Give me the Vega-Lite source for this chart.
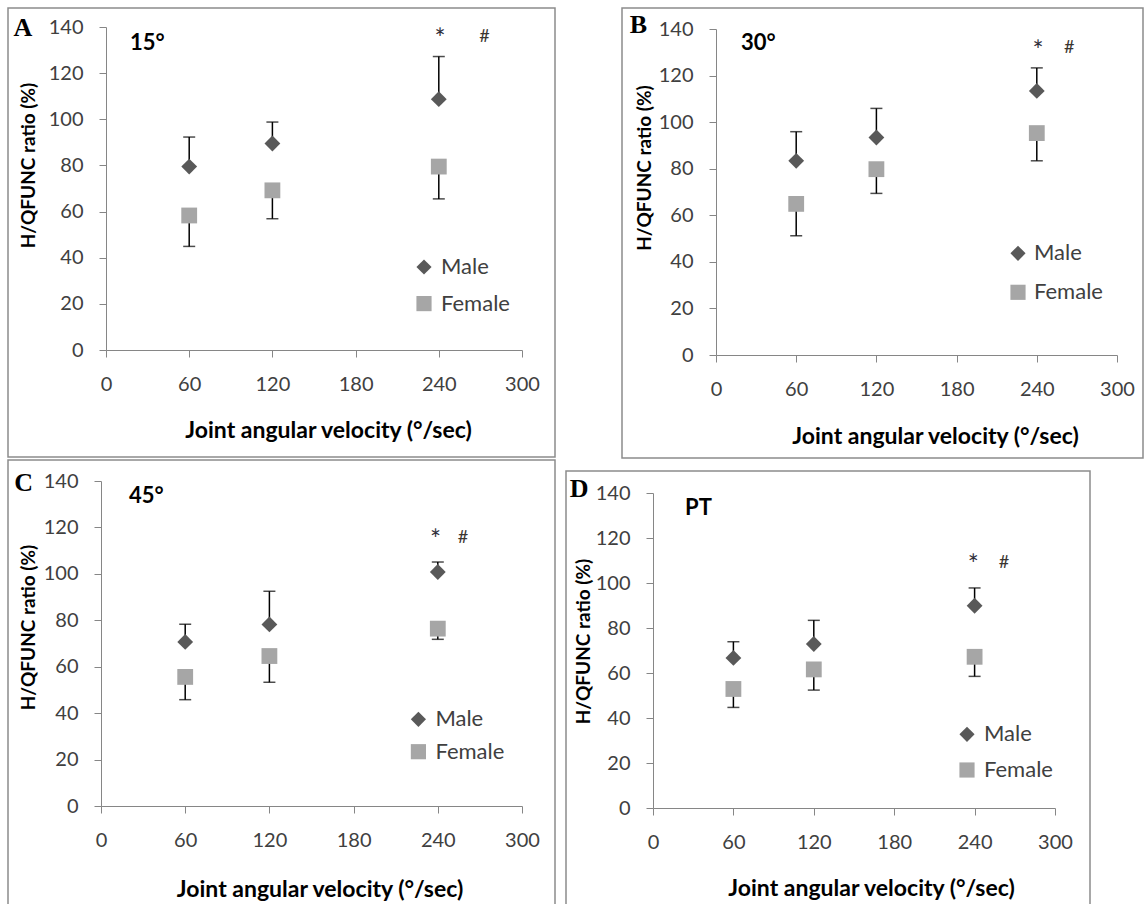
{
  "$schema": "https://vega.github.io/schema/vega-lite/v6.json",
  "background": "white",
  "padding": {"left": 7, "top": 7, "right": 0, "bottom": 0},
  "config": {
    "font": "Lato",
    "view": {"stroke": "#8c8c8c", "strokeWidth": 1.5},
    "axis": {"grid": false, "domainColor": "#868686", "tickColor": "#868686", "tickSize": 7, "labelColor": "#404040", "labelFont": "Lato", "labelFontSize": 20, "labelFlush": false, "labelOverlap": false, "titleFont": "Lato", "titleFontWeight": "bold", "titleColor": "#000000", "titleBaseline": "middle", "titleAlign": "center"},
    "axisX": {"labelPadding": 17},
    "axisY": {"labelPadding": 16},
    "legend": {"labelFont": "Lato", "labelFontSize": 22, "labelColor": "#404040", "symbolSize": 230, "symbolStrokeWidth": 0}
  },
  "datasets": {
    "pts": [
      {"panel": "A", "velocity": 60, "sex": "Male", "ratio": 79.5, "bar": 92.3},
      {"panel": "A", "velocity": 120, "sex": "Male", "ratio": 89.5, "bar": 98.8},
      {"panel": "A", "velocity": 240, "sex": "Male", "ratio": 108.7, "bar": 127.2},
      {"panel": "A", "velocity": 60, "sex": "Female", "ratio": 58.3, "bar": 44.9},
      {"panel": "A", "velocity": 120, "sex": "Female", "ratio": 69.2, "bar": 56.9},
      {"panel": "A", "velocity": 240, "sex": "Female", "ratio": 79.5, "bar": 65.5},
      {"panel": "B", "velocity": 60, "sex": "Male", "ratio": 83.4, "bar": 95.9},
      {"panel": "B", "velocity": 120, "sex": "Male", "ratio": 93.4, "bar": 105.9},
      {"panel": "B", "velocity": 240, "sex": "Male", "ratio": 113.4, "bar": 123.3},
      {"panel": "B", "velocity": 60, "sex": "Female", "ratio": 64.9, "bar": 51.2},
      {"panel": "B", "velocity": 120, "sex": "Female", "ratio": 79.8, "bar": 69.4},
      {"panel": "B", "velocity": 240, "sex": "Female", "ratio": 95.3, "bar": 83.4},
      {"panel": "C", "velocity": 60, "sex": "Male", "ratio": 70.7, "bar": 78.3},
      {"panel": "C", "velocity": 120, "sex": "Male", "ratio": 78.2, "bar": 92.5},
      {"panel": "C", "velocity": 240, "sex": "Male", "ratio": 100.8, "bar": 105.1},
      {"panel": "C", "velocity": 60, "sex": "Female", "ratio": 55.6, "bar": 45.8},
      {"panel": "C", "velocity": 120, "sex": "Female", "ratio": 64.6, "bar": 53.3},
      {"panel": "C", "velocity": 240, "sex": "Female", "ratio": 76.4, "bar": 71.8},
      {"panel": "D", "velocity": 60, "sex": "Male", "ratio": 66.7, "bar": 73.9},
      {"panel": "D", "velocity": 120, "sex": "Male", "ratio": 72.9, "bar": 83.4},
      {"panel": "D", "velocity": 240, "sex": "Male", "ratio": 89.9, "bar": 97.8},
      {"panel": "D", "velocity": 60, "sex": "Female", "ratio": 52.9, "bar": 44.7},
      {"panel": "D", "velocity": 120, "sex": "Female", "ratio": 61.6, "bar": 52.4},
      {"panel": "D", "velocity": 240, "sex": "Female", "ratio": 67.2, "bar": 58.5}
    ]
  },
  "spacing": 0,
  "resolve": {"scale": {"color": "independent", "shape": "independent"}, "legend": {"color": "independent", "shape": "independent"}},
  "vconcat": [
    {
      "hconcat": [
        {
          "width": 547, "height": 449,
          "layer": [
            {
              "data": {"name": "pts"}, "transform": [{"filter": "datum.panel === 'A'"}],
              "encoding": {
                "x": {"field": "velocity", "type": "quantitative", "scale": {"domain": [0, 300], "range": [98, 514], "nice": false, "zero": false}, "axis": {"values": [0, 60, 120, 180, 240, 300], "offset": -107, "title": "Joint angular velocity (°/sec)", "titleX": 320, "titleY": 80, "titleFontSize": 23}},
                "y": {"field": "ratio", "type": "quantitative", "scale": {"domain": [0, 140], "range": [342, 19], "nice": false}, "axis": {"values": [0, 20, 40, 60, 80, 100, 120, 140], "offset": -98, "title": "H/QFUNC ratio (%)", "titleX": -78, "titleY": 157, "titleFontSize": 19}}
              },
              "layer": [
                {"mark": {"type": "rule", "color": "#000000", "strokeWidth": 1.5}, "encoding": {"y2": {"field": "bar"}}},
                {"mark": {"type": "tick", "orient": "horizontal", "color": "#000000", "thickness": 1.5, "size": 12}, "encoding": {"y": {"field": "bar", "type": "quantitative"}}},
                {"mark": {"type": "point", "filled": true, "opacity": 1, "size": 250, "strokeWidth": 0},
                 "encoding": {
                   "color": {"field": "sex", "type": "nominal", "scale": {"domain": ["Male", "Female"], "range": ["#595959", "#a6a6a6"]}, "legend": {"title": null, "orient": "none", "legendX": 405, "legendY": 248, "rowPadding": 14.6, "labelOffset": 6}},
                   "shape": {"field": "sex", "type": "nominal", "scale": {"domain": ["Male", "Female"], "range": ["diamond", "square"]}, "legend": {"title": null, "orient": "none", "legendX": 405, "legendY": 248, "rowPadding": 14.6, "labelOffset": 6}}
                 }}
              ]
            },
            {"data": {"values": [{}]}, "mark": {"type": "text", "font": "Liberation Serif", "fontWeight": "bold", "fontSize": 26, "align": "center", "baseline": "middle", "color": "#000000"}, "encoding": {"x": {"datum": -60}, "y": {"datum": 139.6}, "text": {"value": "A"}}},
            {"data": {"values": [{}]}, "mark": {"type": "text", "fontWeight": "bold", "fontSize": 22, "align": "left", "baseline": "middle", "color": "#000000"}, "encoding": {"x": {"datum": 17.3}, "y": {"datum": 133}, "text": {"value": "15°"}}},
            {"data": {"values": [{}]}, "mark": {"type": "text", "fontSize": 26, "align": "center", "baseline": "middle", "color": "#2e2e3a"}, "encoding": {"x": {"datum": 240.8}, "y": {"datum": 134.3}, "text": {"value": "*"}}},
            {"data": {"values": [{}]}, "mark": {"type": "text", "fontSize": 18, "align": "center", "baseline": "middle", "color": "#3a3530"}, "encoding": {"x": {"datum": 273}, "y": {"datum": 135.8}, "text": {"value": "#"}}}
          ]
        },
        {
          "width": 521, "height": 450,
          "layer": [
            {
              "data": {"name": "pts"}, "transform": [{"filter": "datum.panel === 'B'"}],
              "encoding": {
                "x": {"field": "velocity", "type": "quantitative", "scale": {"domain": [0, 300], "range": [94, 495], "nice": false, "zero": false}, "axis": {"values": [0, 60, 120, 180, 240, 300], "offset": -103, "title": "Joint angular velocity (°/sec)", "titleX": 313, "titleY": 81, "titleFontSize": 23}},
                "y": {"field": "ratio", "type": "quantitative", "scale": {"domain": [0, 140], "range": [347, 21], "nice": false}, "axis": {"values": [0, 20, 40, 60, 80, 100, 120, 140], "offset": -94, "title": "H/QFUNC ratio (%)", "titleX": -72, "titleY": 159.5, "titleFontSize": 19}}
              },
              "layer": [
                {"mark": {"type": "rule", "color": "#000000", "strokeWidth": 1.5}, "encoding": {"y2": {"field": "bar"}}},
                {"mark": {"type": "tick", "orient": "horizontal", "color": "#000000", "thickness": 1.5, "size": 12}, "encoding": {"y": {"field": "bar", "type": "quantitative"}}},
                {"mark": {"type": "point", "filled": true, "opacity": 1, "size": 250, "strokeWidth": 0},
                 "encoding": {
                   "color": {"field": "sex", "type": "nominal", "scale": {"domain": ["Male", "Female"], "range": ["#595959", "#a6a6a6"]}, "legend": {"title": null, "orient": "none", "legendX": 385, "legendY": 234.3, "rowPadding": 17, "labelOffset": 5}},
                   "shape": {"field": "sex", "type": "nominal", "scale": {"domain": ["Male", "Female"], "range": ["diamond", "square"]}, "legend": {"title": null, "orient": "none", "legendX": 385, "legendY": 234.3, "rowPadding": 17, "labelOffset": 5}}
                 }}
              ]
            },
            {"data": {"values": [{}]}, "mark": {"type": "text", "font": "Liberation Serif", "fontWeight": "bold", "fontSize": 26, "align": "center", "baseline": "middle", "color": "#000000"}, "encoding": {"x": {"datum": -58}, "y": {"datum": 141.7}, "text": {"value": "B"}}},
            {"data": {"values": [{}]}, "mark": {"type": "text", "fontWeight": "bold", "fontSize": 22, "align": "left", "baseline": "middle", "color": "#000000"}, "encoding": {"x": {"datum": 18.7}, "y": {"datum": 134}, "text": {"value": "30°"}}},
            {"data": {"values": [{}]}, "mark": {"type": "text", "fontSize": 26, "align": "center", "baseline": "middle", "color": "#2e2e3a"}, "encoding": {"x": {"datum": 241}, "y": {"datum": 130.1}, "text": {"value": "*"}}},
            {"data": {"values": [{}]}, "mark": {"type": "text", "fontSize": 18, "align": "center", "baseline": "middle", "color": "#3a3530"}, "encoding": {"x": {"datum": 264.3}, "y": {"datum": 131.7}, "text": {"value": "#"}}}
          ]
        }
      ],
      "spacing": 67,
      "bounds": "flush",
      "resolve": {"scale": {"color": "independent", "shape": "independent"}, "legend": {"color": "independent", "shape": "independent"}}
    },
    {
      "hconcat": [
        {
          "width": 547, "height": 476,
          "layer": [
            {
              "data": {"name": "pts"}, "transform": [{"filter": "datum.panel === 'C'"}],
              "encoding": {
                "x": {"field": "velocity", "type": "quantitative", "scale": {"domain": [0, 300], "range": [93, 514], "nice": false, "zero": false}, "axis": {"values": [0, 60, 120, 180, 240, 300], "offset": -130, "title": "Joint angular velocity (°/sec)", "titleX": 311.5, "titleY": 83, "titleFontSize": 23}},
                "y": {"field": "ratio", "type": "quantitative", "scale": {"domain": [0, 140], "range": [346, 21], "nice": false}, "axis": {"values": [0, 20, 40, 60, 80, 100, 120, 140], "offset": -93, "title": "H/QFUNC ratio (%)", "titleX": -72.5, "titleY": 167, "titleFontSize": 19}}
              },
              "layer": [
                {"mark": {"type": "rule", "color": "#000000", "strokeWidth": 1.5}, "encoding": {"y2": {"field": "bar"}}},
                {"mark": {"type": "tick", "orient": "horizontal", "color": "#000000", "thickness": 1.5, "size": 12}, "encoding": {"y": {"field": "bar", "type": "quantitative"}}},
                {"mark": {"type": "point", "filled": true, "opacity": 1, "size": 250, "strokeWidth": 0},
                 "encoding": {
                   "color": {"field": "sex", "type": "nominal", "scale": {"domain": ["Male", "Female"], "range": ["#595959", "#a6a6a6"]}, "legend": {"title": null, "orient": "none", "legendX": 399.4, "legendY": 248.3, "rowPadding": 10.4, "labelOffset": 6}},
                   "shape": {"field": "sex", "type": "nominal", "scale": {"domain": ["Male", "Female"], "range": ["diamond", "square"]}, "legend": {"title": null, "orient": "none", "legendX": 399.4, "legendY": 248.3, "rowPadding": 10.4, "labelOffset": 6}}
                 }}
              ]
            },
            {"data": {"values": [{}]}, "mark": {"type": "text", "font": "Liberation Serif", "fontWeight": "bold", "fontSize": 26, "align": "center", "baseline": "middle", "color": "#000000"}, "encoding": {"x": {"datum": -55.2}, "y": {"datum": 139.3}, "text": {"value": "C"}}},
            {"data": {"values": [{}]}, "mark": {"type": "text", "fontWeight": "bold", "fontSize": 22, "align": "left", "baseline": "middle", "color": "#000000"}, "encoding": {"x": {"datum": 20}, "y": {"datum": 133.5}, "text": {"value": "45°"}}},
            {"data": {"values": [{}]}, "mark": {"type": "text", "fontSize": 26, "align": "center", "baseline": "middle", "color": "#2e2e3a"}, "encoding": {"x": {"datum": 238.4}, "y": {"datum": 114}, "text": {"value": "*"}}},
            {"data": {"values": [{}]}, "mark": {"type": "text", "fontSize": 18, "align": "center", "baseline": "middle", "color": "#3a3530"}, "encoding": {"x": {"datum": 257.9}, "y": {"datum": 115.6}, "text": {"value": "#"}}}
          ]
        },
        {
          "width": 524, "height": 454,
          "layer": [
            {
              "data": {"name": "pts"}, "transform": [{"filter": "datum.panel === 'D'"}],
              "encoding": {
                "x": {"field": "velocity", "type": "quantitative", "scale": {"domain": [0, 300], "range": [87, 489], "nice": false, "zero": false}, "axis": {"values": [0, 60, 120, 180, 240, 300], "offset": -117, "title": "Joint angular velocity (°/sec)", "titleX": 305, "titleY": 80, "titleFontSize": 23}},
                "y": {"field": "ratio", "type": "quantitative", "scale": {"domain": [0, 140], "range": [337, 22], "nice": false}, "axis": {"values": [0, 20, 40, 60, 80, 100, 120, 140], "offset": -87, "title": "H/QFUNC ratio (%)", "titleX": -70, "titleY": 170, "titleFontSize": 19}}
              },
              "layer": [
                {"mark": {"type": "rule", "color": "#000000", "strokeWidth": 1.5}, "encoding": {"y2": {"field": "bar"}}},
                {"mark": {"type": "tick", "orient": "horizontal", "color": "#000000", "thickness": 1.5, "size": 12}, "encoding": {"y": {"field": "bar", "type": "quantitative"}}},
                {"mark": {"type": "point", "filled": true, "opacity": 1, "size": 250, "strokeWidth": 0},
                 "encoding": {
                   "color": {"field": "sex", "type": "nominal", "scale": {"domain": ["Male", "Female"], "range": ["#595959", "#a6a6a6"]}, "legend": {"title": null, "orient": "none", "legendX": 390, "legendY": 252.3, "rowPadding": 13.7, "labelOffset": 6}},
                   "shape": {"field": "sex", "type": "nominal", "scale": {"domain": ["Male", "Female"], "range": ["diamond", "square"]}, "legend": {"title": null, "orient": "none", "legendX": 390, "legendY": 252.3, "rowPadding": 13.7, "labelOffset": 6}}
                 }}
              ]
            },
            {"data": {"values": [{}]}, "mark": {"type": "text", "font": "Liberation Serif", "fontWeight": "bold", "fontSize": 26, "align": "center", "baseline": "middle", "color": "#000000"}, "encoding": {"x": {"datum": -55.2}, "y": {"datum": 141.8}, "text": {"value": "D"}}},
            {"data": {"values": [{}]}, "mark": {"type": "text", "fontWeight": "bold", "fontSize": 22, "align": "left", "baseline": "middle", "color": "#000000"}, "encoding": {"x": {"datum": 23.9}, "y": {"datum": 133.5}, "text": {"value": "PT"}}},
            {"data": {"values": [{}]}, "mark": {"type": "text", "fontSize": 26, "align": "center", "baseline": "middle", "color": "#2e2e3a"}, "encoding": {"x": {"datum": 239}, "y": {"datum": 107.4}, "text": {"value": "*"}}},
            {"data": {"values": [{}]}, "mark": {"type": "text", "fontSize": 18, "align": "center", "baseline": "middle", "color": "#3a3530"}, "encoding": {"x": {"datum": 262}, "y": {"datum": 109}, "text": {"value": "#"}}}
          ]
        }
      ],
      "spacing": 11,
      "bounds": "flush",
      "center": true,
      "resolve": {"scale": {"color": "independent", "shape": "independent"}, "legend": {"color": "independent", "shape": "independent"}}
    }
  ]
}
